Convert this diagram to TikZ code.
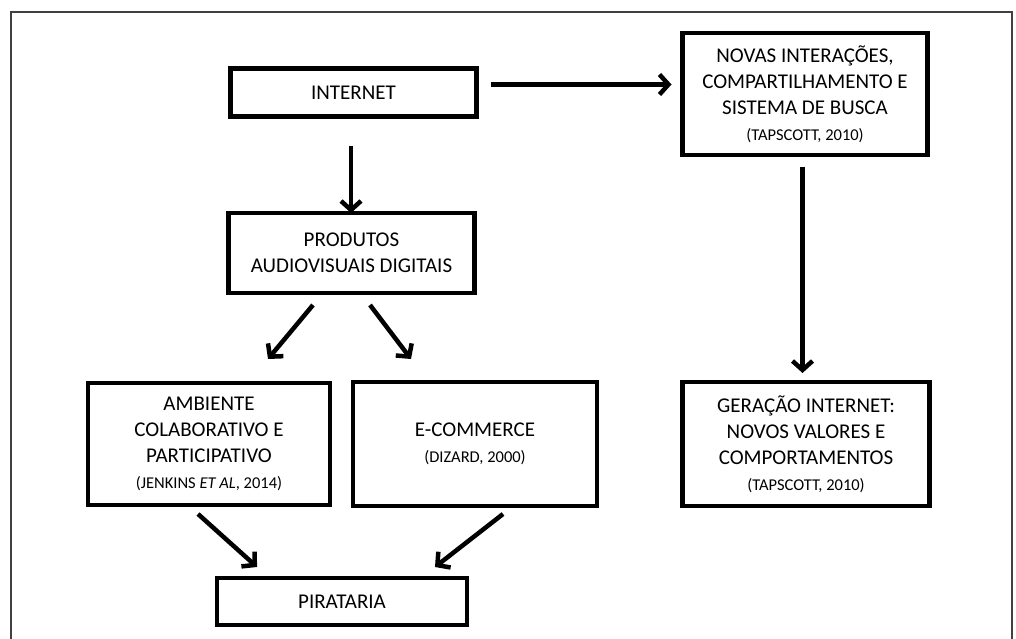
\documentclass[tikz,border=0pt]{standalone}
\usepackage{fontspec}
\setmainfont{Carlito}
\usetikzlibrary{positioning,arrows.meta}
\def\chartwid{246pt}
\def\chartsmall{\fontsize{16.5}{20}\selectfont}

\begin{document}
\begin{tikzpicture}[
            box/.style={%
                draw=black, line width=4.5pt, rectangle, outer sep=0pt,%
                minimum width=\chartwid, align=center,%
                font=\fontsize{21}{26}\selectfont%
            },
            arrow/.style={line width=4.5pt,-{Straight Barb[length=9pt,width=20pt]}},
            frame/.style={line width=1.2pt, draw=black!75}
        ]

        \useasboundingbox (0pt,0pt) rectangle (1016pt,-639pt);
        \draw [frame] (11pt,-645pt) -- (11pt,-12pt) -- (1012pt,-12pt) -- (1012pt,-645pt);

        % Define nodes
        \node (internet) [box, minimum height=48pt] at (353.5pt,-92.5pt) {INTERNET};

        \node (novas) [
                box, minimum height=122pt, minimum width=245pt,
                right=206pt of internet, yshift=-1.5pt
            ] {
                NOVAS INTERAÇÕES,\\
                COMPARTILHAMENTO E\\
                SISTEMA DE BUSCA\\
                {\chartsmall (TAPSCOTT, 2010)}
            };

        \node (produtos) [
                box, minimum height=80pt,
                below=96.5pt of internet, xshift=-2pt
            ] {
                PRODUTOS\\
                AUDIOVISUAIS DIGITAIS
            };

        \node (ambiente) [
                box, minimum height=122pt, minimum width=242pt,
                below=90pt of produtos, xshift=-142.5pt
            ] {
                AMBIENTE\\
                COLABORATIVO E\\
                PARTICIPATIVO\\
                {\chartsmall (JENKINS \textit{ET AL}, 2014)}
            };

        \node (ecommerce) [
                box, minimum height=124pt, minimum width=244pt,
                right=23pt of ambiente
            ] {
                E-COMMERCE\\
                {\chartsmall (DIZARD, 2000)}
            };

        \node (geracao) [
                box, minimum height=124pt, minimum width=247pt,
                below=227pt of novas, xshift=1pt
            ] {
                GERAÇÃO INTERNET:\\
                NOVOS VALORES E\\
                COMPORTAMENTOS\\
                {\chartsmall (TAPSCOTT, 2010)}
            };

        \node (pirataria) [
                box, minimum height=47pt, minimum width=250pt,
                below=73pt of ambiente, xshift=133pt
            ] {PIRATARIA};

        \draw [arrow] ([xshift=14pt,yshift=8pt]internet.east) -- ([xshift=-11pt,yshift=9.5pt]novas.west);
        \draw [arrow] ([xshift=-2.5pt,yshift=-12pt]novas.south) -- ([xshift=-3.5pt,yshift=9pt]geracao.north);
        \draw [arrow] ([xshift=-2.5pt,yshift=-30pt]internet.south) -- ([xshift=-0.5pt]produtos.north);
        \draw [arrow] ([xshift=-38.5pt,yshift=-12pt]produtos.south) -- ([xshift=59pt,yshift=24pt]ambiente.north);
        \draw [arrow] ([xshift=18.5pt,yshift=-12pt]produtos.south) -- ([xshift=-64pt,yshift=23pt]ecommerce.north);
        \draw [arrow] ([xshift=-11pt,yshift=-9pt]ambiente.south) -- ([xshift=-85pt,yshift=11pt]pirataria.north);
        \draw [arrow] ([xshift=28pt,yshift=-8pt]ecommerce.south) -- ([xshift=93pt,yshift=11pt]pirataria.north);

        \end{tikzpicture}
\end{document}
